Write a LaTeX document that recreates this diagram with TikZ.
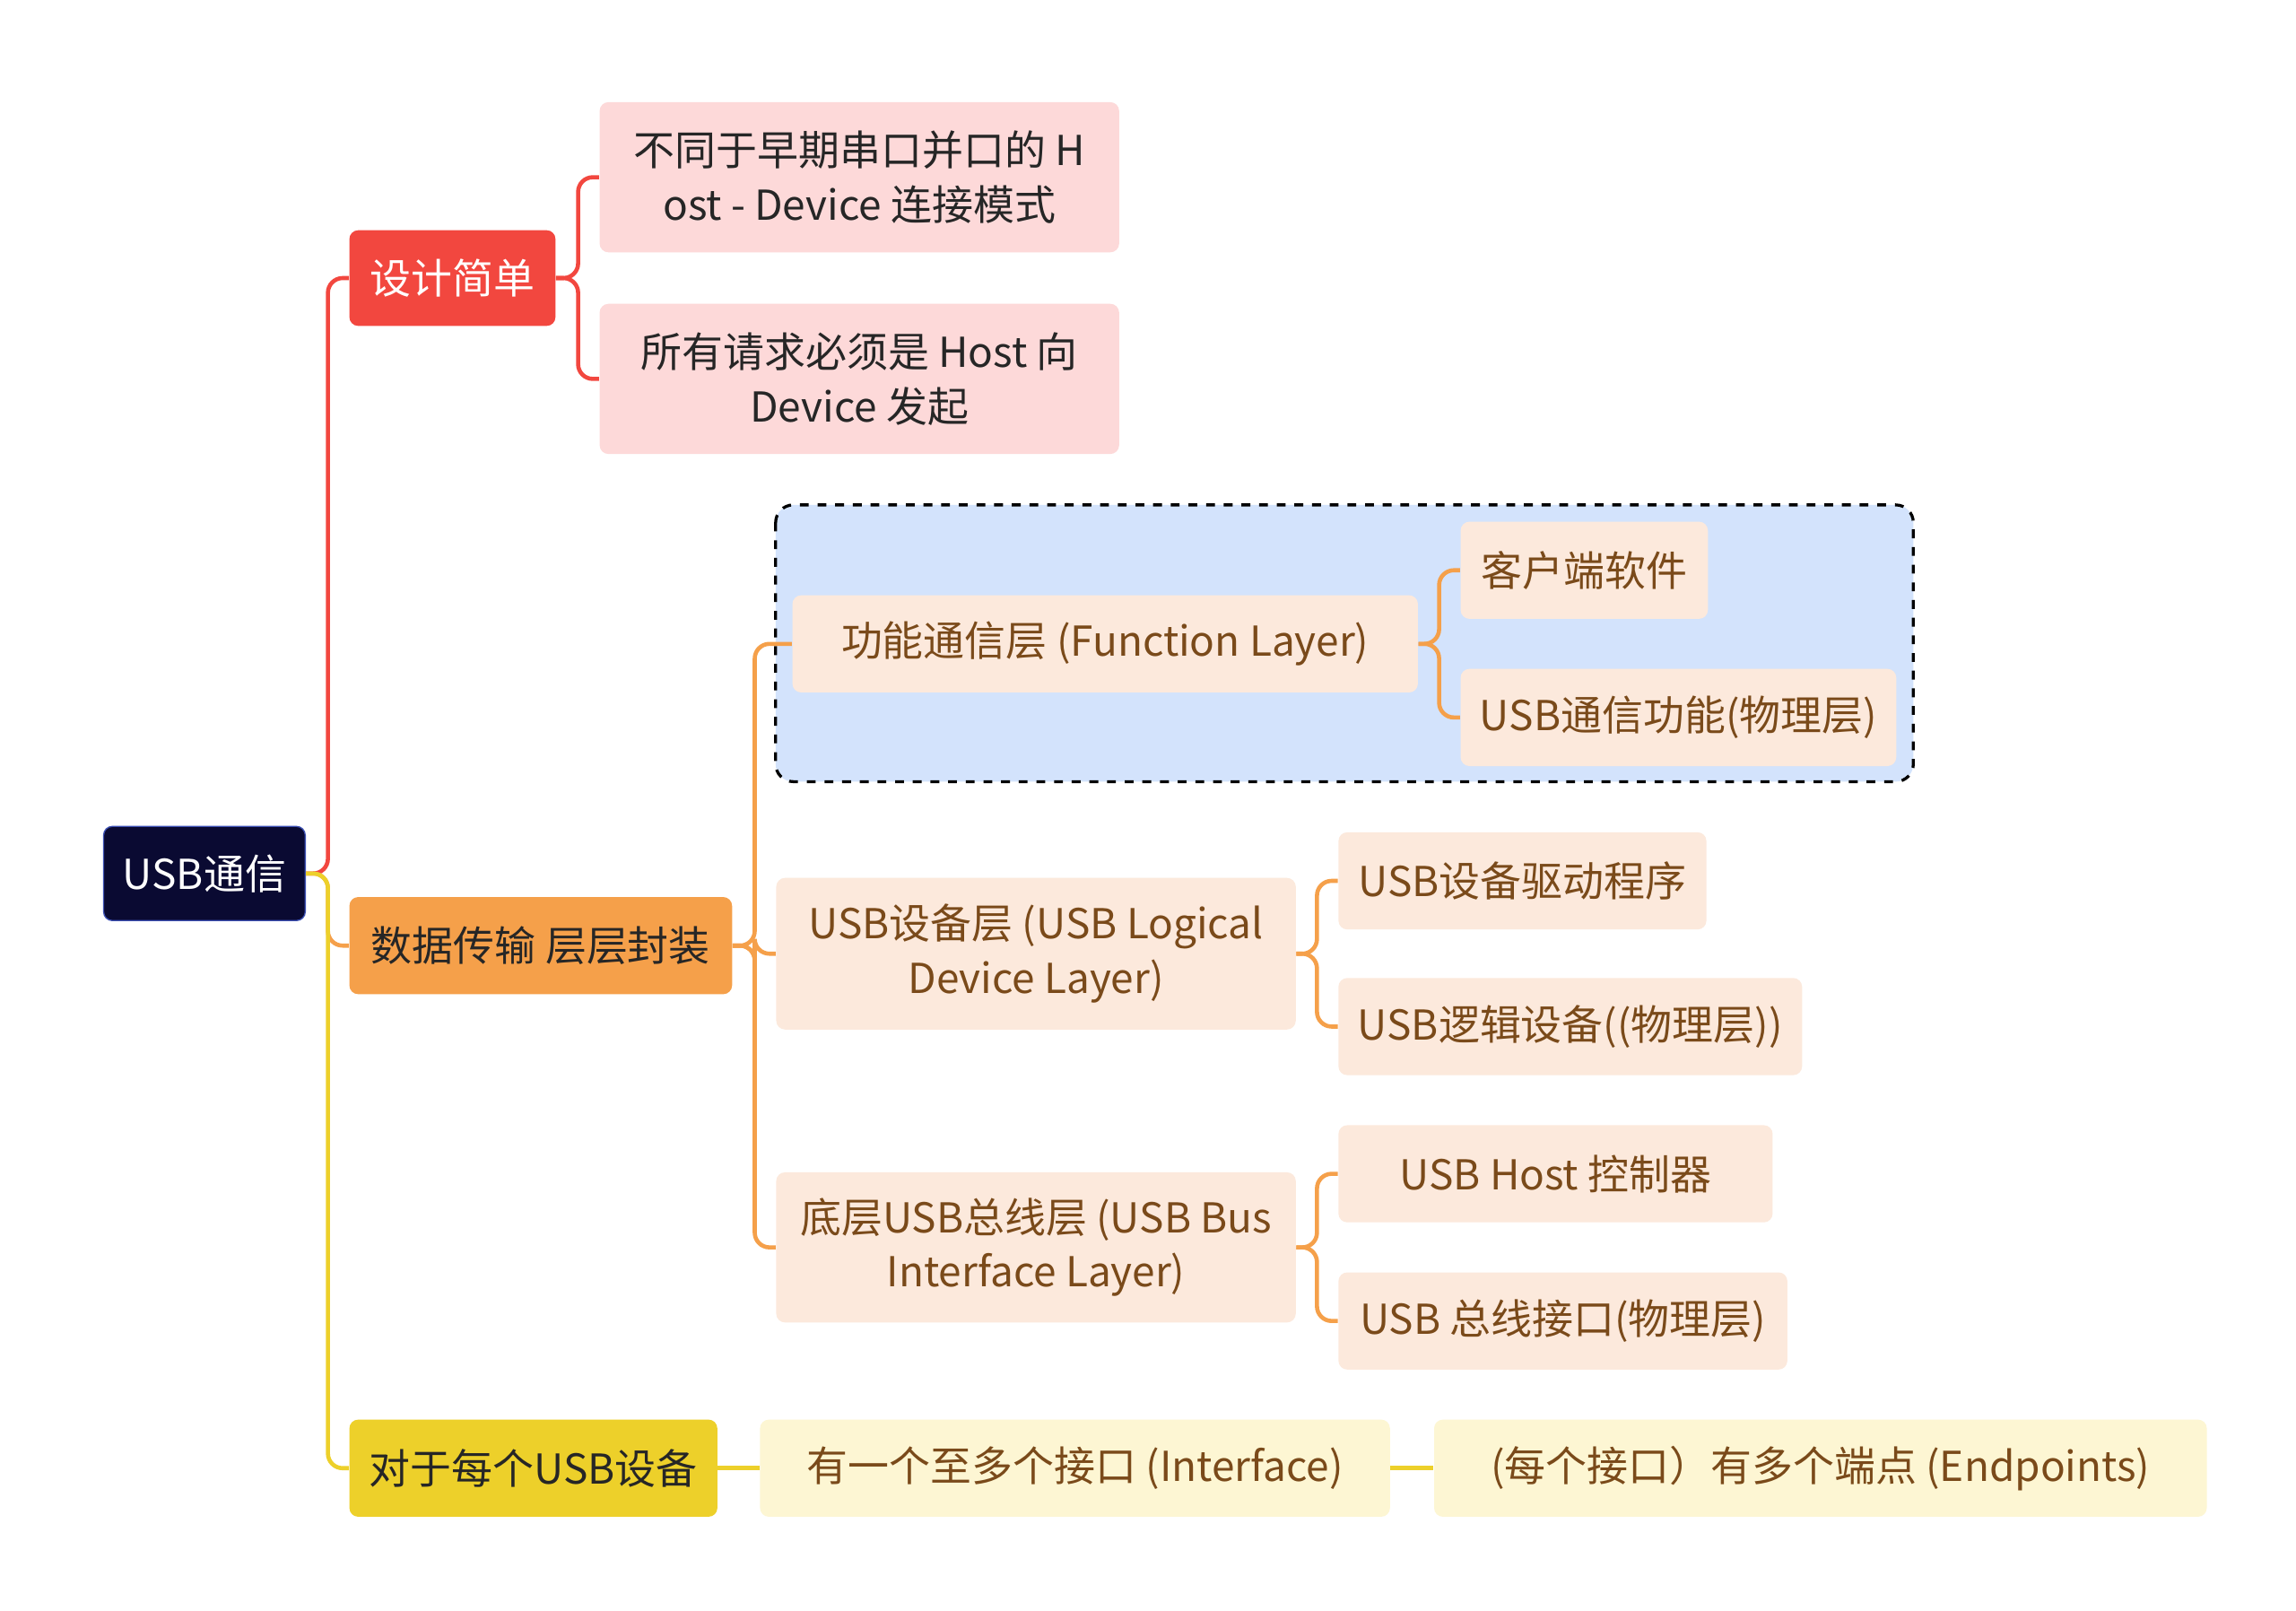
\documentclass[tikz,border=0pt]{standalone}
\usepackage{fontspec}
\setmainfont{Noto Sans CJK SC}
\begin{document}
\begin{tikzpicture}[x=0.5pt,y=-0.5pt,
 box/.style={anchor=north west,inner sep=0pt,rounded corners=3pt,align=center,font=\fontsize{14}{18.5}\selectfont},
 w/.style={minimum width=#1*0.5pt},
 h/.style={minimum height=#1*0.5pt},
 l1/.style={box,fill=#1},
 conn/.style={line width=1.4pt,rounded corners=5pt,draw=#1}]
\useasboundingbox[fill=white] (0,0) rectangle (1560,1094);
\definecolor{cred}{HTML}{F2473F}\definecolor{cora}{HTML}{F5A04A}\definecolor{cyel}{HTML}{EDD02A}
\definecolor{pink}{HTML}{FDD9D9}\definecolor{peach}{HTML}{FCE9DC}\definecolor{lyel}{HTML}{FDF6D3}
\definecolor{brn}{HTML}{7A4A1A}\definecolor{lblue}{HTML}{D3E3FC}
\draw[dashed,line width=1pt,rounded corners=6pt,fill=lblue] (527,343) rectangle (1300,531);
\node[box,fill={rgb,255:red,10;green,10;blue,50},draw={rgb,255:red,60;green,80;blue,180},text=white,w=137,h=64] (root) at (70,561) {USB通信};
\node[l1=cred,text=white,w=140,h=65] (a) at (237,156) {设计简单};
\node[box,fill=pink,text=black!85,w=353,h=102] (a1) at (407,69) {不同于早期串口并口的 H\\ost - Device 连接模式};
\node[box,fill=pink,text=black!85,w=353,h=102] (a2) at (407,206) {所有请求必须是 Host 向\\Device 发起};
\node[l1=cora,text=black!85,w=260,h=66] (b) at (237,609) {数据传输 层层封装};
\node[box,fill=peach,text=brn,w=425,h=66] (b1) at (538,404) {功能通信层 (Function Layer)};
\node[box,fill=peach,text=brn,w=168,h=66] (b11) at (992,354) {客户端软件};
\node[box,fill=peach,text=brn,w=296,h=66] (b12) at (992,454) {USB通信功能(物理层)};
\node[box,fill=peach,text=brn,w=353,h=103] (b2) at (527,596) {USB设备层 (USB Logical\\Device Layer)};
\node[box,fill=peach,text=brn,w=250,h=66] (b21) at (909,565) {USB设备驱动程序};
\node[box,fill=peach,text=brn,w=315,h=66] (b22) at (909,664) {USB逻辑设备((物理层))};
\node[box,fill=peach,text=brn,w=353,h=102] (b3) at (527,796) {底层USB总线层 (USB Bus\\Interface Layer)};
\node[box,fill=peach,text=brn,w=295,h=66] (b31) at (909,764) {USB Host 控制器};
\node[box,fill=peach,text=brn,w=305,h=66] (b32) at (909,864) {USB 总线接口(物理层)};
\node[l1=cyel,text=black!85,w=250,h=66] (c) at (237,964) {对于每个USB设备};
\node[box,fill=lyel,text=brn,w=428,h=66] (c1) at (516,964) {有一个至多个接口 (Interface)};
\node[box,fill=lyel,text=brn,w=525,h=66] (c2) at (974,964) {(每个接口）有多个端点 (Endpoints)};
\draw[conn=cred] (root.east) -- ++(15,0) |- (a.west);
\draw[conn=cora] (root.east) -- ++(15,0) |- (b.west);
\draw[conn=cyel] (root.east) -- ++(15,0) |- (c.west);
\draw[conn=cred] (a.east) -- ++(15,0) |- (a1.west);
\draw[conn=cred] (a.east) -- ++(15,0) |- (a2.west);
\draw[conn=cora] (b.east) -- ++(15,0) |- (b1.west);
\draw[conn=cora] (b.east) -- ++(15,0) |- (b2.west);
\draw[conn=cora] (b.east) -- ++(15,0) |- (b3.west);
\draw[conn=cora] (b1.east) -- ++(14,0) |- (b11.west);
\draw[conn=cora] (b1.east) -- ++(14,0) |- (b12.west);
\draw[conn=cora] (b2.east) -- ++(14,0) |- (b21.west);
\draw[conn=cora] (b2.east) -- ++(14,0) |- (b22.west);
\draw[conn=cora] (b3.east) -- ++(14,0) |- (b31.west);
\draw[conn=cora] (b3.east) -- ++(14,0) |- (b32.west);
\draw[conn=cyel] (c.east) -- (c1.west);
\draw[conn=cyel] (c1.east) -- (c2.west);
\end{tikzpicture}
\end{document}
